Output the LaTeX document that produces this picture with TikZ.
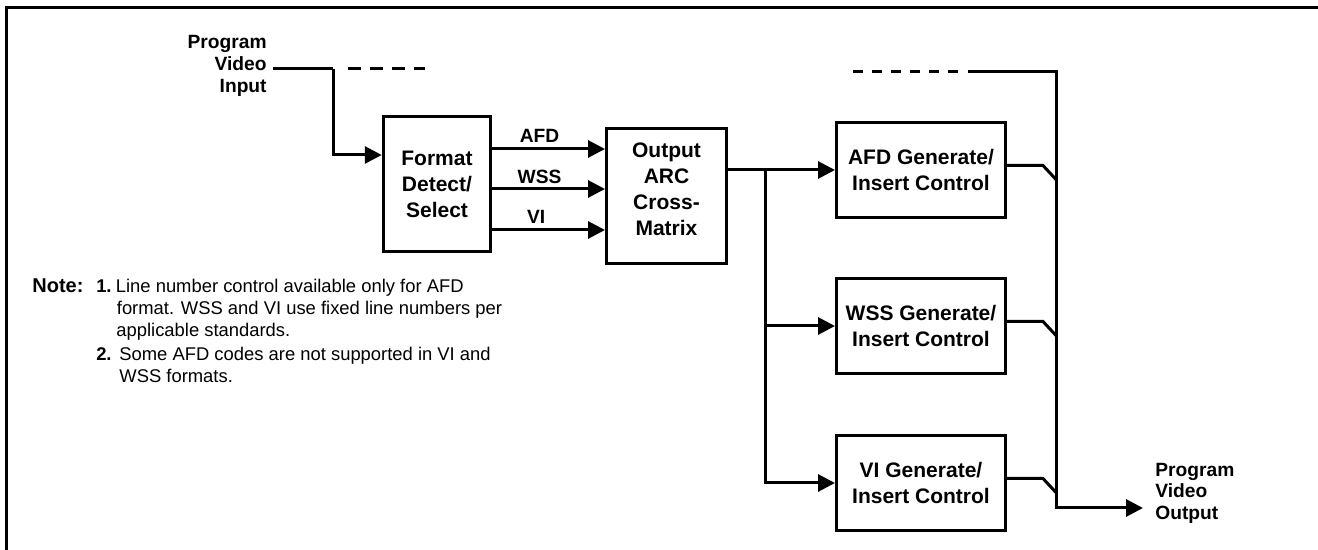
\documentclass[tikz,border=0pt]{standalone}
\usepackage{fontspec}
\setmainfont{Liberation Sans}
\usetikzlibrary{arrows.meta}

\begin{document}
\begin{tikzpicture}[x=0.5pt, y=-0.5pt,
        sig/.style={line width=1.5pt},
        arr/.style={sig, -{Triangle[length=8.5pt, width=8.5pt]}},
        dsh/.style={sig, dash pattern=on 6.5pt off 4.5pt},
        blk/.style={draw, line width=1.5pt, inner sep=0pt, align=center, font=\bfseries\fontsize{10.5}{13}\selectfont},
        gen/.style={blk, minimum width=84.5pt, minimum height=47.5pt},
        lbl/.style={inner sep=0pt, font=\bfseries\fontsize{9.6}{10.85}\selectfont},
        note/.style={inner sep=0pt, anchor=base west, font=\fontsize{9.2}{11}\selectfont},
    ]
    \useasboundingbox (0,0) rectangle (1318,550);
    % Frame
    \draw[sig] (6,551) -- (6,8) -- (1319,8);

    % Input side
    \node[lbl, align=right, anchor=north east] (pvin) at (267,35) {Program\\Video\\Input};
    \coordinate (inbeg) at (273,69);
    \coordinate (injct) at (333,69);
    \coordinate (indshL) at (348,69);
    \coordinate (indshR) at (425,69);

    % Blocks
    \node[blk, minimum width=53.75pt, minimum height=67.5pt] (fmt) at (437,184) {Format\\Detect/\\Select};
    \node[blk, minimum width=60pt, minimum height=67.5pt, text depth=7pt] (arc) at (666.5,196) {Output\\ARC\\Cross-\\Matrix};
    \node[gen] (afd) at (921,170) {AFD Generate/\\Insert Control};
    \node[gen] (wss) at (921,326) {WSS Generate/\\Insert Control};
    \node[gen] (vi) at (921,483) {VI Generate/\\Insert Control};

    % Output side
    \coordinate (split) at (765,170);
    \coordinate (outdshL) at (853,71.5);
    \coordinate (outdshR) at (958,71.5);
    \coordinate (outtop) at (968,71.5);
    \coordinate (bustop) at (1056,71.5);
    \coordinate (busbot) at (1056,508);
    \coordinate (outend) at (1143,508);
    \node[lbl, align=left, anchor=north west] (pvout) at (1155,462.5) {Program\\Video\\Output};

    % Connectors
    \draw[sig] (inbeg) -- (injct);
    \draw[dsh] (indshL) -- (indshR);
    \draw[arr] (injct) |- ([yshift=14.5pt]fmt.west);
    \draw[arr] (fmt.east |- 0,149) -- (arc.west |- 0,149) node[lbl, pos=0.42, above=2.5pt] (afdlbl) {AFD};
    \draw[arr] (fmt.east |- 0,189) -- (arc.west |- 0,189) node[lbl, pos=0.42, above=2pt] (wsslbl) {WSS};
    \draw[arr] (fmt.east |- 0,230) -- (arc.west |- 0,230) node[lbl, pos=0.39, above=2.5pt] (vilbl) {VI};
    \draw[sig] (arc.east |- split) -- (split);
    \draw[arr] (split) -- (afd.west);
    \draw[arr] (split) |- (wss.west);
    \draw[arr] (split) |- (vi.west);
    \draw[dsh, dash pattern=on 5pt off 4.5pt] (outdshL) -- (outdshR);
    \draw[arr] (outtop) -- (bustop) -- (busbot) -- (outend);
    \foreach \g in {afd, wss, vi}
        \draw[sig] ([yshift=2.25pt]\g.east) -- ++(36,0) -- ++(13,14);

    % Notes
    \node[note] (notehd) at (32,293) {\textbf{\fontsize{10}{11}\selectfont Note:}};
    \node[note, anchor=base east] (n1num) at (112,293) {\textbf{1.}};
    \node[note] (n1a) at (115.5,293) {Line number control available only for AFD};
    \node[note] (n1b) at (116.5,315) {format. WSS and VI use fixed line numbers per};
    \node[note] (n1c) at (116,337) {applicable standards.};
    \node[note, anchor=base east] (n2num) at (112,361) {\textbf{2.}};
    \node[note] (n2a) at (119,361) {Some AFD codes are not supported in VI and};
    \node[note] (n2b) at (119,383) {WSS formats.};
\end{tikzpicture}
\end{document}
